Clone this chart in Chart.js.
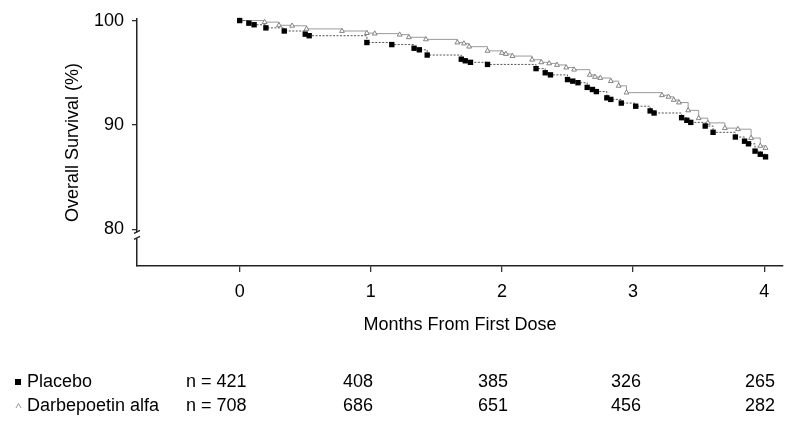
<!DOCTYPE html>
<html><head><meta charset="utf-8">
<script src="https://cdn.jsdelivr.net/npm/chart.js@4.4.1/dist/chart.umd.min.js"></script>
<style>html,body{margin:0;padding:0;background:#fff;}#wrap{width:788px;height:422px;position:relative;}canvas{display:block;}</style>
</head><body><div id="wrap"><canvas id="c" width="788" height="422"></canvas></div>
<script>
// Kaplan–Meier estimates
const placeboMonths = [0,0.07,0.11,0.2,0.34,0.5,0.53,0.97,1.16,1.33,1.37,1.43,1.69,1.72,1.76,1.89,2.26,2.33,2.37,2.5,2.54,2.58,2.65,2.69,2.72,2.8,2.83,2.91,3.02,3.13,3.16,3.37,3.41,3.44,3.55,3.61,3.78,3.85,3.88,3.93,3.97,4.01];
const placeboSurvival = [100,99.75,99.6,99.3,99.0,98.7,98.55,97.9,97.7,97.35,97.2,96.7,96.3,96.15,96.0,95.8,95.4,95.0,94.8,94.35,94.2,94.05,93.6,93.4,93.2,92.6,92.45,92.1,91.8,91.35,91.15,90.7,90.45,90.25,89.9,89.3,88.85,88.45,88.2,87.5,87.2,86.95];
const darbeMonths = [0,0.19,0.3,0.4,0.51,0.78,0.97,1.03,1.22,1.29,1.42,1.66,1.71,1.75,1.89,2.0,2.03,2.08,2.23,2.3,2.36,2.42,2.49,2.55,2.67,2.71,2.75,2.83,2.89,2.95,3.22,3.27,3.31,3.35,3.42,3.5,3.57,3.7,3.8,3.9,3.97,4.01];
const darbeSurvival = [100,99.85,99.55,99.5,99.2,99.0,98.8,98.75,98.65,98.4,98.2,97.9,97.8,97.5,97.1,96.9,96.8,96.6,96.25,96.0,95.9,95.75,95.5,95.3,94.8,94.6,94.5,94.2,93.75,93.1,92.85,92.7,92.4,92.15,91.4,90.65,90.2,89.7,89.6,88.75,88.0,87.8];
const xTicks = [0,1,2,3,4];
const yTicks = [80,90,100];
const groupNames = ['Placebo','Darbepoetin alfa'];
const placeboAtRisk = ['n = 421','408','385','326','265'];
const darbeAtRisk = ['n = 708','686','651','456','282'];

const FONT = "'Liberation Sans', Arial, Helvetica, sans-serif";
const toPts = (xs, ys) => xs.map((x,i)=>({x:x,y:ys[i]}));

const extras = {
  id:'extras',
  afterDraw(chart){
    const ctx = chart.ctx;
    const y = chart.scales.y;
    // axis break mark near 80
    const bx = chart.chartArea.left, by = y.getPixelForValue(80) + 6;
    ctx.save();
    ctx.fillStyle = '#fff';
    ctx.fillRect(bx-3, by-3, 6, 6);
    ctx.strokeStyle = '#222'; ctx.lineWidth = 1.3;
    ctx.beginPath();
    ctx.moveTo(bx-3, by-2); ctx.lineTo(bx+3, by-5);
    ctx.moveTo(bx-3, by+4); ctx.lineTo(bx+3, by+1);
    ctx.stroke();
    // at-risk table
    ctx.font = '18px ' + FONT;
    ctx.fillStyle = '#000';
    ctx.textBaseline = 'middle';
    const rows = [placeboAtRisk, darbeAtRisk];
    const rowY = [382, 406];
    const colX = [358, 493, 626, 760];
    rows.forEach((r,i)=>{
      ctx.textAlign = 'left';
      ctx.fillText(groupNames[i], 27, rowY[i]);
      ctx.fillText(r[0], 186, rowY[i]);
      ctx.textAlign = 'center';
      for (let k=1;k<r.length;k++) ctx.fillText(r[k], colX[k-1], rowY[i]);
    });
    // markers in table
    ctx.fillStyle = '#000';
    ctx.fillRect(15, rowY[0]-3, 6, 6);
    ctx.strokeStyle = '#999'; ctx.lineWidth = 1;
    ctx.beginPath();
    ctx.moveTo(16, rowY[1]+2); ctx.lineTo(18.5, rowY[1]-2.5); ctx.lineTo(21, rowY[1]+2);
    ctx.stroke();
    ctx.restore();
  }
};

new Chart(document.getElementById('c'), {
  type:'scatter',
  data:{datasets:[
    {label:'Placebo', data:toPts(placeboMonths,placeboSurvival), showLine:true, stepped:true,
     borderColor:'#555', borderWidth:1, borderDash:[2,1.5], pointStyle:'rect', pointRadius:3.8,
     pointBackgroundColor:'#000', pointBorderColor:'#000', pointBorderWidth:0, clip:false},
    {label:'Darbepoetin alfa', data:toPts(darbeMonths,darbeSurvival), showLine:true, stepped:true,
     borderColor:'#9a9a9a', borderWidth:1, pointStyle:'triangle', pointRadius:2.8,
     pointBackgroundColor:'#fff', pointBorderColor:'#777', pointBorderWidth:0.9, clip:false}
  ]},
  options:{
    responsive:false, animation:false, devicePixelRatio:1,
    layout:{padding:{left:62, top:19, right:3, bottom:86}},
    plugins:{legend:{display:false}, tooltip:{enabled:false}},
    scales:{
      x:{type:'linear', min:-0.783, max:4.144,
        afterBuildTicks:s=>{s.ticks = xTicks.map(v=>({value:v}));},
        afterFit:s=>{s.height = 70;},
        grid:{display:true, drawOnChartArea:false, drawTicks:true, tickLength:6, color:'#333', lineWidth:1.3},
        border:{display:true, color:'#222', width:1.5},
        ticks:{font:{family:FONT, size:18}, color:'#000', padding:9, maxRotation:0},
        title:{display:true, text:'Months From First Dose', font:{family:FONT, size:18}, color:'#000', padding:{top:6,bottom:0}}
      },
      y:{type:'linear', min:76.5, max:100.15,
        afterBuildTicks:s=>{s.ticks = yTicks.map(v=>({value:v}));},
        afterFit:s=>{s.width = 137-62;},
        grid:{display:true, drawOnChartArea:false, drawTicks:true, tickLength:5, color:'#333', lineWidth:1.3},
        border:{display:true, color:'#222', width:1.5},
        ticks:{font:{family:FONT, size:18}, color:'#000', padding:8},
        title:{display:true, text:'Overall Survival (%)', font:{family:FONT, size:18}, color:'#000', padding:{top:0,bottom:0}}
      }
    }
  },
  plugins:[extras]
});
</script></body></html>
